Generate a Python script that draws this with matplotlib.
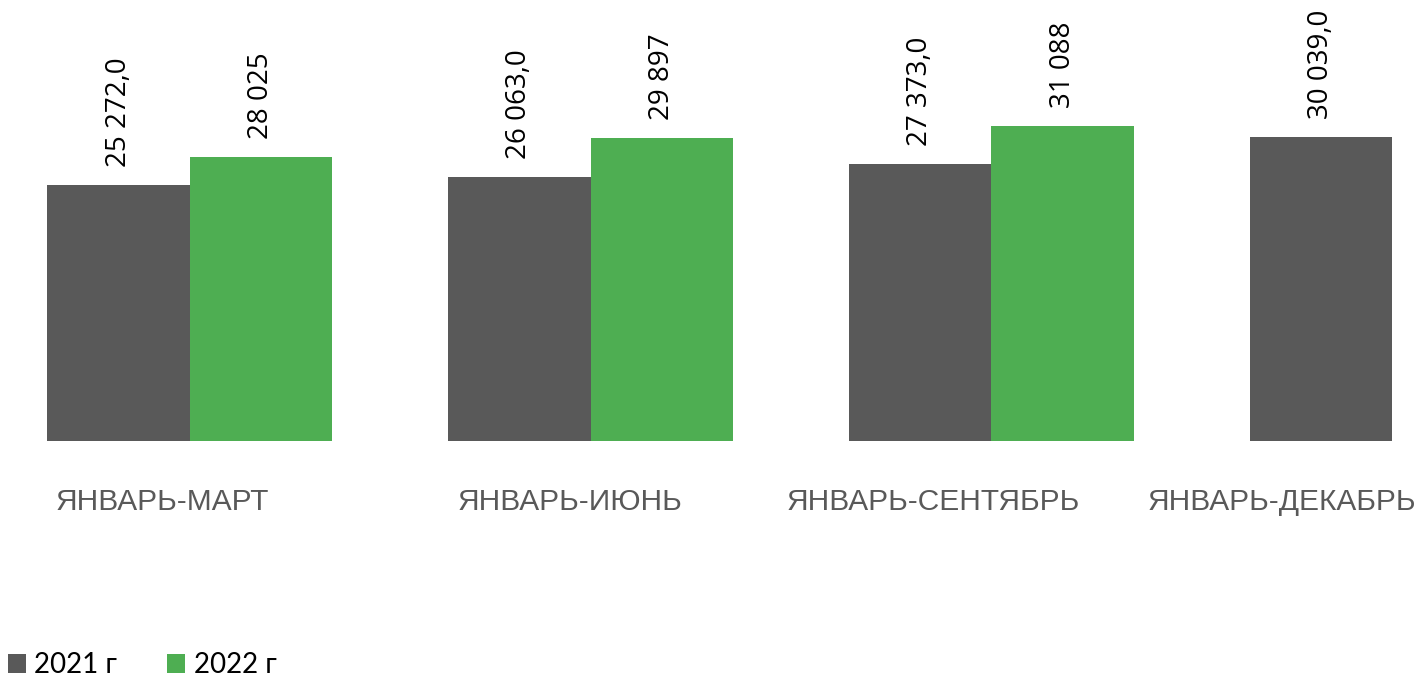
import matplotlib
matplotlib.use("Agg")
import matplotlib.pyplot as plt
import matplotlib.transforms as mtransforms
from matplotlib.patches import Patch
import numpy as np

categories = ["ЯНВАРЬ-МАРТ", "ЯНВАРЬ-ИЮНЬ", "ЯНВАРЬ-СЕНТЯБРЬ", "ЯНВАРЬ-ДЕКАБРЬ"]
series_names = ["2021 г", "2022 г"]
values_2021 = [25272.0, 26063.0, 27373.0, 30039.0]
values_2022 = [28025, 29897, 31088, None]
labels_2021 = ["25 272,0", "26 063,0", "27 373,0", "30 039,0"]
labels_2022 = ["28 025", "29 897", "31 088", None]

GRAY = "#595959"
GREEN = "#4EAE52"

W, H = 1416, 679
fig = plt.figure(figsize=(W / 100, H / 100), dpi=100)
ax = fig.add_axes([0, (H - 441) / H, 1, 441 / H])

px_per_group = 400.67
w = 142.5 / px_per_group
x = np.arange(len(categories))

ax.bar(x - w / 2, values_2021, width=w, color=GRAY, align="center", linewidth=0)
x2 = [xi + w / 2 for xi, v in zip(x, values_2022) if v is not None]
v2 = [v for v in values_2022 if v is not None]
ax.bar(x2, v2, width=w, color=GREEN, align="center", linewidth=0)

ax.set_xlim(-190 / px_per_group, (W - 190) / px_per_group)
ax.set_ylim(0, 441 / 0.01013)
ax.axis("off")

lab_font = dict(family=["Open Sans", "DejaVu Sans"], fontsize=20, color="black")
for xi, v, t in zip(x, values_2021, labels_2021):
    ax.annotate(t, (xi - w / 2, v), xytext=(0, 13), textcoords="offset points",
                rotation=90, ha="center", va="bottom", **lab_font)
for xi, v, t in zip(x, values_2022, labels_2022):
    if v is None:
        continue
    ax.annotate(t, (xi + w / 2, v), xytext=(0, 13), textcoords="offset points",
                rotation=90, ha="center", va="bottom", **lab_font)

# category labels (with per-label horizontal offsets in pixels)
cat_offsets_px = [-28, -21, -58, -110]
for xi, name, off in zip(x, categories, cat_offsets_px):
    tr = ax.get_xaxis_transform() + mtransforms.ScaledTranslation(off / 100, 0, fig.dpi_scale_trans)
    ax.text(xi, -(502 - 441) / 441, name, transform=tr, ha="center", va="center",
            family=["Liberation Sans", "DejaVu Sans"], fontsize=21.5, color=GRAY)

handles = [Patch(facecolor=GRAY, edgecolor="none"), Patch(facecolor=GREEN, edgecolor="none")]
fig.legend(handles, series_names, loc="lower left", bbox_to_anchor=(8 / W, 1 / H),
           ncol=2, frameon=False, prop=dict(family=["Lato", "DejaVu Sans"], size=20),
           handlelength=0.65, handleheight=0.65, handletextpad=0.3, columnspacing=1.8,
           borderaxespad=0, borderpad=0)

fig.savefig("out.png", dpi=100)
